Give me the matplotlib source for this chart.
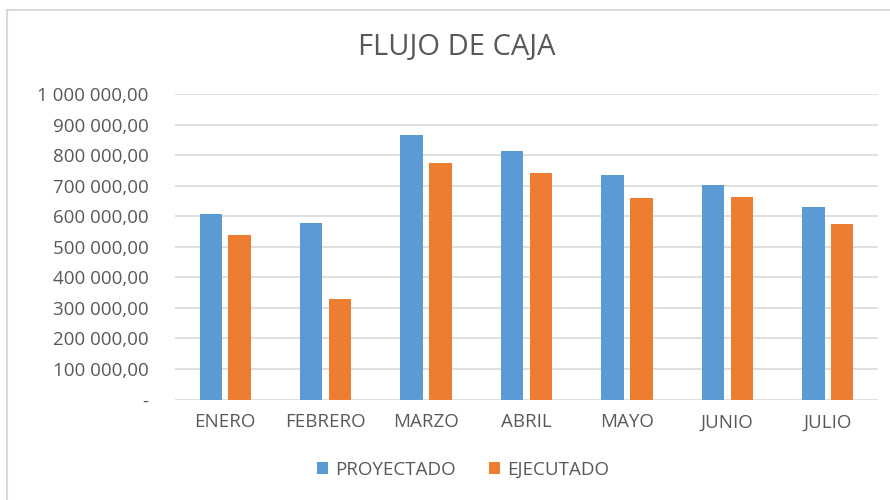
import matplotlib.pyplot as plt
import numpy as np
from matplotlib.patches import Rectangle

# datos
meses = ['ENERO', 'FEBRERO', 'MARZO', 'ABRIL', 'MAYO', 'JUNIO', 'JULIO']
proyectado = [608000, 577000, 866000, 815000, 735000, 703000, 630000]
ejecutado = [538000, 328000, 775000, 743000, 660000, 663000, 574000]
y_ticks = [0, 100000, 200000, 300000, 400000, 500000, 600000, 700000, 800000, 900000, 1000000]

plt.rcParams['font.family'] = ['Open Sans', 'DejaVu Sans']
gris = '#595959'

fig = plt.figure(figsize=(8.9, 5), dpi=100)
ax = fig.add_axes([175 / 890, 1 - 399.5 / 500, 703 / 890, 305.5 / 500])

x = np.arange(len(meses))
ancho = 0.224
ax.bar(x - 0.144, proyectado, ancho, color='#5B9BD5', label='PROYECTADO', zorder=3)
ax.bar(x + 0.144, ejecutado, ancho, color='#ED7D31', label='EJECUTADO', zorder=3)

ax.set_xlim(-0.5, len(meses) - 0.5)
ax.set_ylim(0, 1000000)
ax.set_xticks(x)
ax.set_xticklabels(meses)
ax.set_yticks(y_ticks)


def fmt(v):
    if v == 0:
        return '-'
    return f'{v:,.2f}'.replace(',', ' ').replace('.', ',')


ax.set_yticklabels([fmt(v) for v in y_ticks])
ax.tick_params(axis='both', length=0, colors=gris, labelsize=13.5)
ax.tick_params(axis='y', pad=19)
ax.tick_params(axis='x', pad=10)
ax.grid(axis='y', color='#D9D9D9', linewidth=1.2, zorder=0)
for s in ax.spines.values():
    s.set_visible(False)

fig.text(457 / 890, 1 - 48 / 500, 'FLUJO DE CAJA', ha='center', va='center',
         fontsize=21, color=gris)

handles, labels = ax.get_legend_handles_labels()
fig.legend(handles, labels, loc='center', bbox_to_anchor=(463 / 890, 1 - 470 / 500),
           ncol=2, frameon=False, fontsize=13.5, labelcolor=gris,
           handlelength=0.6, handleheight=0.6, handletextpad=0.35, columnspacing=1.8)

fig.patches.append(Rectangle((7 / 890, -0.02), 1.02, 1 - 10 / 500 + 0.02,
                             transform=fig.transFigure, fill=False,
                             edgecolor='#D9D9D9', linewidth=1.5))

fig.savefig('out.png', dpi=100)
